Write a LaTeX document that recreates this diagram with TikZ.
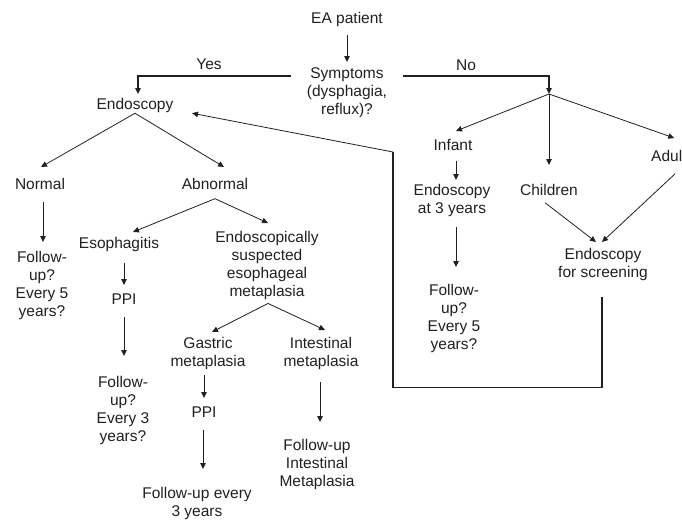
\documentclass[tikz,border=0pt]{standalone}
\usepackage{fontspec}
\setmainfont{Liberation Sans}
\usetikzlibrary{arrows.meta}
\definecolor{ink}{HTML}{231F20}

\begin{document}
\begin{tikzpicture}[x=1pt,y=-1pt,
    every node/.style={inner sep=0pt,anchor=north,align=center,text=ink,
      font=\fontsize{15.5}{18}\selectfont},
    arr/.style={draw=ink,line width=0.8pt,-{Triangle[length=6pt,width=5.5pt]}},
    wire/.style={draw=ink,line width=1.4pt}]
  \useasboundingbox (0,0) rectangle (682,520);
  %\draw (0,0) grid (682,520);
  \node (ea) at (347,12.4) {EA patient};
  \node (sym) at (347,67.4) {Symptoms\\(dysphagia,\\reflux)?};
  \node (yes) at (209,58.4) {Yes};
  \node (no) at (466,59.4) {No};
  \node (endo) at (135,98.4) {Endoscopy};
  \node (normal) at (40,178.4) {Normal};
  \node (abn) at (215,178.4) {Abnormal};
  \node (fu1) at (42,251.4) {Follow-\\up?\\Every 5\\years?};
  \node (esoph) at (119,237.4) {Esophagitis};
  \node (ppi1) at (124,293.4) {PPI};
  \node (fu2) at (123,376.4) {Follow-\\up?\\Every 3\\years?};
  \node (esm) at (267,231.4) {Endoscopically\\suspected\\esophageal\\metaplasia};
  \node (gas) at (208,337.4) {Gastric\\metaplasia};
  \node (ppi2) at (204,406.4) {PPI};
  \node (fu3) at (197,487.4) {Follow-up every\\3 years};
  \node (int) at (321,337.4) {Intestinal\\metaplasia};
  \node (fu4) at (317,439.4) {Follow-up\\Intestinal\\Metaplasia};
  \node (infant) at (453,139.4) {Infant};
  \node (endo3) at (452,184.4) {Endoscopy\\at 3 years};
  \node (fu5) at (454,284.4) {Follow-\\up?\\Every 5\\years?};
  \node (child) at (549,184.4) {Children};
  \node[anchor=north west] (adul) at (651,150.4) {Adul};
  \node (scr) at (603,248.4) {Endoscopy\\for screening};
  \coordinate (split) at (549,94);
  \coordinate (bend) at (393,152);

  % yes / no branches
  \draw[wire,-{Triangle[length=6pt,width=5.5pt]}] ([xshift=-16pt,yshift=16.6pt]sym.west) -| ([xshift=3pt,yshift=4.4pt]endo.north);
  \draw[wire,-{Triangle[length=6pt,width=5.5pt]}] ([xshift=16pt,yshift=16.6pt]sym.east) -| (split);
  \draw[arr] ([yshift=-8.2pt]ea.south) -- ([yshift=5.4pt]sym.north);

  % left tree
  \draw[arr] (endo.south) -- ([xshift=1pt,yshift=11.4pt]normal.north);
  \draw[arr] (endo.south) -- ([xshift=9pt,yshift=11.4pt]abn.north);
  \draw[arr] ([xshift=3pt,yshift=-11.5pt]normal.south) -- ([xshift=1pt,yshift=9.4pt]fu1.north);
  \draw[arr] ([yshift=-8.5pt]abn.south) -- ([xshift=14pt,yshift=5.4pt]esoph.north);
  \draw[arr] ([yshift=-8.5pt]abn.south) -- ([xshift=1pt,yshift=8.4pt]esm.north);
  \draw[arr] ([xshift=5pt,yshift=-11.2pt]esoph.south) -- ([yshift=8.4pt]ppi1.north);
  \draw[arr] ([yshift=-12.5pt]ppi1.south) -- ([xshift=1pt,yshift=20.4pt]fu2.north);
  \draw[arr] ([xshift=1pt,yshift=-3.2pt]esm.south) -- ([xshift=4pt,yshift=5.4pt]gas.north);
  \draw[arr] ([xshift=1pt,yshift=-3.2pt]esm.south) -- ([xshift=4pt,yshift=7.4pt]int.north);
  \draw[arr] ([xshift=-4pt,yshift=-5.2pt]gas.south) -- ([yshift=8.4pt]ppi2.north);
  \draw[arr] ([xshift=-1pt,yshift=-12.5pt]ppi2.south) -- ([xshift=6pt,yshift=18.4pt]fu3.north);
  \draw[arr] ([xshift=-1pt,yshift=-12.2pt]int.south) -- ([xshift=3pt,yshift=17.4pt]fu4.north);

  % right tree
  \draw[arr] (split) -- ([xshift=3pt,yshift=8.4pt]infant.north);
  \draw[arr] (split) -- ([yshift=19.4pt]child.north);
  \draw[arr] (split) -- ([xshift=7.5pt,yshift=12.4pt]adul.north);
  \draw[arr] ([xshift=3pt,yshift=-9.5pt]infant.south) -- ([xshift=4pt,yshift=4.4pt]endo3.north);
  \draw[arr] ([xshift=4pt,yshift=-10.2pt]endo3.south) -- ([xshift=2pt,yshift=17.4pt]fu5.north);
  \draw[arr] ([xshift=-4pt,yshift=-6.5pt]child.south) -- ([xshift=-7pt,yshift=6.4pt]scr.north);
  \draw[arr] ([xshift=8.5pt,yshift=-11.5pt]adul.south) -- ([xshift=-1pt,yshift=6.4pt]scr.north);

  % back to endoscopy
  \draw[wire] ([xshift=-1pt,yshift=-16.2pt]scr.south) -- ++(0,90) -| (bend);
  \draw[arr] (bend) -- ([xshift=18.5pt,yshift=-7.4pt]endo.east);
\end{tikzpicture}
\end{document}
